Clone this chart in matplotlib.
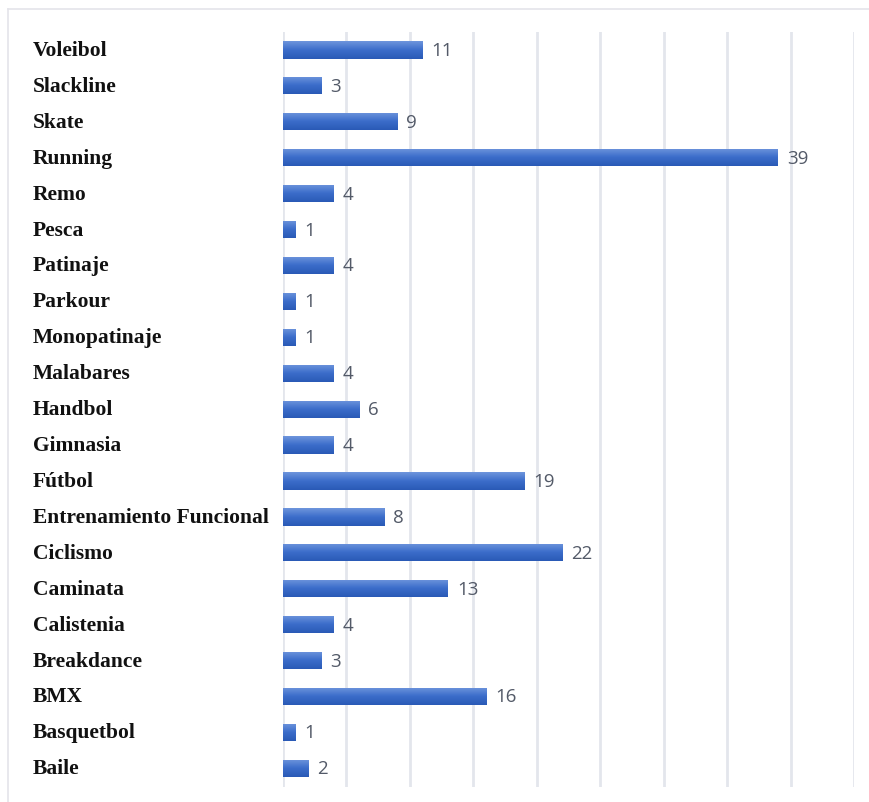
import matplotlib.pyplot as plt
import numpy as np
from matplotlib.colors import LinearSegmentedColormap
from matplotlib.lines import Line2D

# Deportes practicados (de abajo hacia arriba en el gráfico)
deportes = [
    "Baile", "Basquetbol", "BMX", "Breakdance", "Calistenia", "Caminata",
    "Ciclismo", "Entrenamiento Funcional", "Fútbol", "Gimnasia", "Handbol",
    "Malabares", "Monopatinaje", "Parkour", "Patinaje", "Pesca", "Remo",
    "Running", "Skate", "Slackline", "Voleibol",
]
cantidades = [2, 1, 16, 3, 4, 13, 22, 8, 19, 4, 6, 4, 1, 1, 4, 1, 4, 39, 9, 3, 11]

W, H = 869, 803
fig = plt.figure(figsize=(W / 100, H / 100), dpi=100)
ax = fig.add_axes([283 / W, 1 - 788 / H, (854 - 283) / W, (788 - 33) / H])

# marco claro alrededor del gráfico
fig.add_artist(Line2D([8 / W, 1], [1 - 10 / H, 1 - 10 / H], color="#e4e4ea", lw=1.2))
fig.add_artist(Line2D([8 / W, 8 / W], [1 - 10 / H, 0], color="#e4e4ea", lw=1.2))

y = np.arange(len(deportes))
alto = 0.48
barras = ax.barh(y, cantidades, height=alto, color="#3a6bc8", edgecolor="none", zorder=2)

# degradado vertical dentro de cada barra
cmap = LinearSegmentedColormap.from_list("azul", ["#2a5ab6", "#3b6dca", "#6e95dc"])
grad = np.linspace(0, 1, 64).reshape(-1, 1)
for b, v, yi in zip(barras, cantidades, y):
    im = ax.imshow(grad, cmap=cmap, aspect="auto", origin="lower",
                   extent=(0, v, yi - alto / 2, yi + alto / 2), zorder=3)
    im.set_clip_path(b)
    ax.text(v + 0.7, yi, str(v), va="center", ha="left", fontsize=13.5,
            family="Open Sans", color="#535a68", zorder=4)

ax.set_xlim(0, 45)
ax.set_ylim(-0.52, len(deportes) - 0.5)
ax.set_xticks(np.arange(0, 46, 5))
ax.set_yticks(y)
ax.set_yticklabels([])
ax.tick_params(length=0, labelbottom=False)
ax.grid(axis="x", color="#e3e6ec", lw=2, zorder=0)
for s in ax.spines.values():
    s.set_visible(False)

# etiquetas de categoría alineadas a la izquierda
for d, yi in zip(deportes, y):
    ax.annotate(d, xy=(0, yi), xycoords=("figure fraction", "data"),
                xytext=(33, 0), textcoords="offset pixels",
                va="center", ha="left", fontsize=15.5, fontweight="bold",
                family="Liberation Serif", color="#111111")

fig.savefig("out.png", dpi=100)
